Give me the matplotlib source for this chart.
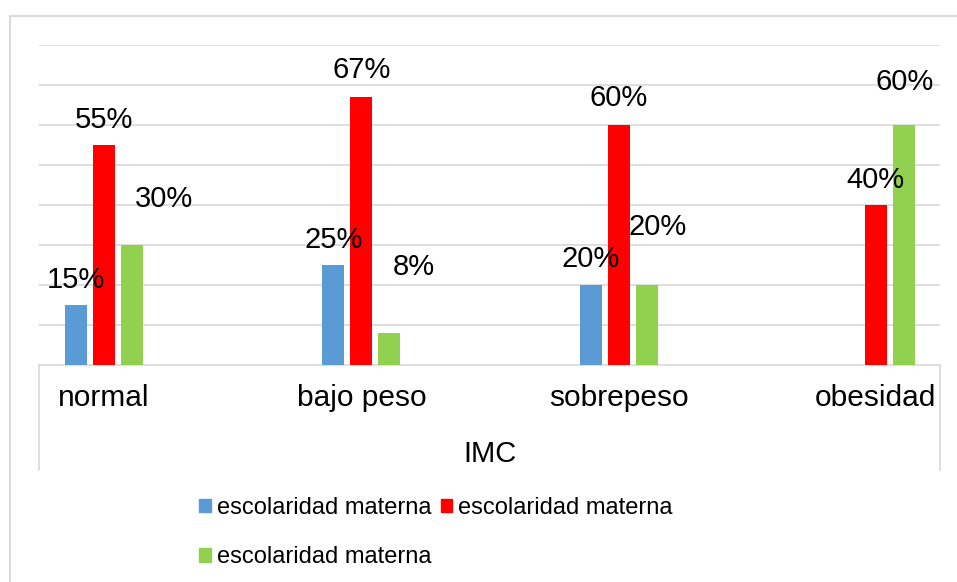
import matplotlib
matplotlib.use("Agg")
import matplotlib.pyplot as plt
from matplotlib.lines import Line2D
from matplotlib.patches import Patch
import numpy as np

plt.rcParams['font.family'] = ['Liberation Sans', 'DejaVu Sans']

categories = ["normal", "bajo peso", "sobrepeso", "obesidad"]
series_names = ["escolaridad materna", "escolaridad materna", "escolaridad materna"]
blue_vals = [15, 25, 20, None]
red_vals = [55, 67, 60, 40]
green_vals = [30, 8, 20, 60]
axis_title = "IMC"

colors = ["#5b9bd5", "#ff0000", "#92d050"]
# label offsets in pixels (dx, dy) from bar top center to label baseline, per series
label_offsets = [
    [(0, 17), (0, 17), (0, 18), None],
    [(0, 17), (0, 19), (0, 19), (0, 17)],
    [(32, 38), (24, 58), (11, 50), (1, 35)],
]

W, H = 957, 582
fig = plt.figure(figsize=(W / 100, H / 100), dpi=100)
ax = fig.add_axes([39 / W, (H - 365) / H, (940 - 39) / W, 320 / H])

x = np.arange(len(categories))
bw = 0.0856
step = 0.109
series = [blue_vals, red_vals, green_vals]
for i, vals in enumerate(series):
    for j, v in enumerate(vals):
        if v is None:
            continue
        xc = x[j] + (i - 1) * step
        ax.bar(xc, v, width=bw, color=colors[i], zorder=3)
        off = label_offsets[i][j]
        ax.annotate(f"{v}%", (xc, v), xytext=(off[0] * 0.72, off[1] * 0.72),
                    textcoords="offset points", ha="center", va="baseline",
                    fontsize=21, color="#000000", zorder=4)

ax.set_xlim(-0.253, 3.249)
ax.set_ylim(0, 80)
ax.set_yticks(np.arange(10, 81, 10))
ax.yaxis.grid(True, color="#d9d9d9", linewidth=1.2, zorder=0)
ax.set_yticklabels([])
ax.tick_params(axis="y", length=0)
ax.set_xticks(x)
ax.set_xticklabels(categories, fontsize=21.5)
ax.tick_params(axis="x", length=0, pad=14)
for s in ["top", "right", "left"]:
    ax.spines[s].set_visible(False)
ax.spines["bottom"].set_color("#d9d9d9")
ax.spines["bottom"].set_linewidth(1.2)

# multi-level category axis borders
for xv in (39, 940):
    fig.add_artist(Line2D([xv / W, xv / W], [(H - 365) / H, (H - 470) / H],
                          color="#d9d9d9", linewidth=1.2))
fig.text(489.5 / W, 1 - 462 / H, axis_title, ha="center", va="baseline", fontsize=21)

# chart border
fig.add_artist(Line2D([10 / W, 1.0], [1 - 16 / H, 1 - 16 / H], color="#d9d9d9", linewidth=1.5))
fig.add_artist(Line2D([10 / W, 10 / W], [1 - 16 / H, 0], color="#d9d9d9", linewidth=1.5))

handles = [Patch(color=colors[0], label=series_names[0]),
           Patch(color=colors[2], label=series_names[2]),
           Patch(color=colors[1], label=series_names[1])]
leg = fig.legend(handles=handles, ncol=2, loc="upper left",
                 bbox_to_anchor=(199 / W, 1 - 497 / H), frameon=False,
                 fontsize=17, handlelength=0.5, handleheight=0.5,
                 handletextpad=0.25, columnspacing=0.4, labelspacing=1.15,
                 borderpad=0, borderaxespad=0)

fig.savefig("out.png", dpi=100)
